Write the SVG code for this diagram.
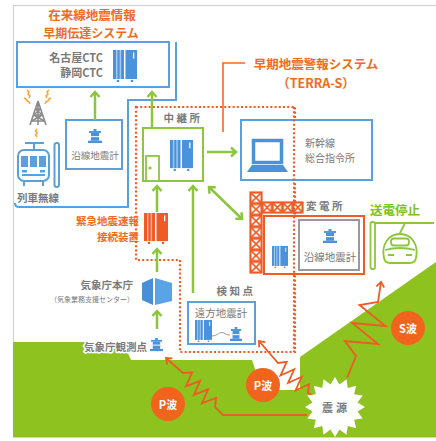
<svg xmlns="http://www.w3.org/2000/svg" width="436" height="441" viewBox="0 0 436 441">
<style>
text { font-family: "Noto Sans CJK JP", "Noto Sans", sans-serif; dominant-baseline: central; }
.g { fill:#7a7a7a; font-weight:700; }
.gl { fill:#7a7a7a; }
.or { fill:#f26b1d; font-weight:700; }
.wt { fill:#ffffff; font-weight:700; font-size:11px; text-anchor:middle; }
.blue { fill:#ffffff; stroke:#5aa0dc; stroke-width:2; }
.bl { fill:none; stroke:#5aa0dc; stroke-width:2; }
.dot { fill:none; stroke:#f05a24; stroke-width:2.2; stroke-dasharray:2 2.2; }
.ga { stroke:#8cc63f; stroke-width:2.5; fill:none; marker-end:url(#gah); }
.wave { stroke:#f05a24; stroke-width:1.8; fill:none; marker-end:url(#oah); }
.circ { fill:#f0641e; }
</style>
<defs>
  <marker id="gah" viewBox="-7 -6 9 12" refX="0" refY="0" markerWidth="9" markerHeight="12" orient="auto-start-reverse" markerUnits="userSpaceOnUse">
    <path d="M-5,-4.5 L0,0 L-5,4.5" fill="none" stroke="#8cc63f" stroke-width="2.5"/>
  </marker>
  <marker id="oah" viewBox="-7 -6 9 12" refX="0" refY="0" markerWidth="9" markerHeight="12" orient="auto" markerUnits="userSpaceOnUse">
    <path d="M-5,-4 L0,0 L-5,4" fill="none" stroke="#f05a24" stroke-width="1.8"/>
  </marker>
  <!-- equipment cabinet -->
  <symbol id="srv" viewBox="0 0 24 32" preserveAspectRatio="none">
    <rect x="0" y="0" width="11" height="29" fill="currentColor"/>
    <rect x="3" y="0" width="1.5" height="29" fill="#fff" opacity="0.5"/>
    <rect x="6.6" y="0" width="1.5" height="29" fill="#fff" opacity="0.5"/>
    <rect x="12.5" y="0" width="11.5" height="29" fill="currentColor"/>
    <rect x="20" y="2.5" width="1.3" height="6" fill="#fff"/>
    <circle cx="5" cy="31" r="1.3" fill="currentColor"/>
    <circle cx="19" cy="31" r="1.3" fill="currentColor"/>
  </symbol>
  <!-- seismometer -->
  <symbol id="seis" viewBox="0 0 14 16" preserveAspectRatio="none">
    <rect x="5.5" y="0" width="3" height="2.2" fill="currentColor"/>
    <rect x="1" y="2.2" width="12" height="2" fill="currentColor"/>
    <rect x="3" y="4.2" width="8" height="8.3" fill="currentColor"/>
    <rect x="3" y="7.6" width="8" height="1.1" fill="#fff"/>
    <rect x="0" y="12.5" width="14" height="2.5" fill="currentColor"/>
  </symbol>
  <pattern id="lat" patternUnits="userSpaceOnUse" x="250" y="192" width="12" height="11.57">
    <rect x="0" y="0" width="12" height="11.57" fill="#fff" stroke="#f05a24" stroke-width="3"/>
    <path d="M0,0 L12,11.57 M12,0 L0,11.57" stroke="#f05a24" stroke-width="1.6"/>
  </pattern>
  <pattern id="lat2" patternUnits="userSpaceOnUse" x="262" y="202" width="10.25" height="11">
    <rect x="0" y="0" width="10.25" height="11" fill="#fff" stroke="#f05a24" stroke-width="3"/>
    <path d="M0,0 L10.25,11 M10.25,0 L0,11" stroke="#f05a24" stroke-width="1.6"/>
  </pattern>
</defs>

<!-- frame and ground -->
<rect x="13.5" y="5.5" width="440" height="432" fill="#fff" stroke="#d2d2d2" stroke-width="1.2"/>
<path d="M13,342 H123 L131,360 H252 L262,390 H300 V357 L436,262 V437 H13 Z" fill="#8dc21f"/>

<!-- TERRA-S boundary -->
<g id="terra-s-area">
  <path class="dot" d="M136,107 H295 V352 H180 V260 H136 Z"/>
</g>

<!-- conventional-line network frame -->
<g id="zairai">
  <text class="or" x="92" y="14" font-size="12.5" text-anchor="middle">在来線地震情報</text>
  <text class="or" x="91" y="32" font-size="12" text-anchor="middle">早期伝達システム</text>
  <path class="bl" d="M15,203 Q15,207 19,207 H128 V100 H176 V42"/>
</g>

<g id="ctc">
  <rect class="blue" x="17" y="42" width="152" height="45"/>
  <text class="g" x="103" y="57" font-size="11" text-anchor="end">名古屋CTC</text>
  <text class="g" x="103" y="72" font-size="11" text-anchor="end">静岡CTC</text>
  <use href="#srv" x="113" y="50" width="24" height="32" style="color:#4a93dc"/>
</g>

<g id="train-radio">
  <!-- signal waves -->
  <g fill="none" stroke="#f7a233" stroke-width="1.5">
    <path d="M27,90 l2,2 l-1,2 l2,2 l-1,2"/>
    <path d="M24,98 l2,1 l1,2 l2,1 l1,2"/>
    <path d="M49,90 l-2,2 l1,2 l-2,2 l1,2"/>
    <path d="M51,98 l-2,1 l-1,2 l-2,1 l-1,2"/>
    <path d="M37,129 l-1.5,2 l1.5,2 l-1.5,2 l1.5,2"/>
  </g>
  <!-- lattice tower -->
  <g fill="none" stroke="#8a8a8a" stroke-width="1.6">
    <path d="M38,101 L30,125 M38,101 L46,125 M38,101 V125"/>
    <path d="M35.5,109 H40.5 M33.5,115 H42.5 M31.5,121 H44.5"/>
    <path d="M35.5,109 L42.5,115 M40.5,109 L33.5,115 M33.5,115 L44.5,121 M42.5,115 L31.5,121"/>
  </g>
  <!-- train -->
  <g fill="none" stroke="#5aa0dc" stroke-width="2">
    <path d="M25,143 H44 M34,143 V150"/>
    <rect x="18" y="150" width="31" height="31" rx="6" fill="#fff"/>
    <path d="M22,175 H45 M24,181 V186 M43,181 V186"/>
    <rect x="54.5" y="143" width="4.5" height="44" rx="2.2" fill="#fff"/>
  </g>
  <g fill="#5aa0dc">
    <rect x="21" y="156" width="7" height="11"/>
    <rect x="30" y="156" width="7" height="11"/>
    <rect x="39" y="156" width="7" height="11"/>
    <rect x="22" y="170" width="5" height="2.5"/>
    <rect x="40" y="170" width="5" height="2.5"/>
  </g>
  <text class="g" x="38" y="197" font-size="10.5" text-anchor="middle">列車無線</text>
</g>

<g id="ensen-left">
  <rect class="blue" x="66" y="120" width="56" height="49"/>
  <use href="#seis" x="88" y="129" width="14" height="15" style="color:#4a93dc"/>
  <text class="gl" x="95" y="155" font-size="9.5" text-anchor="middle">沿線地震計</text>
</g>

<g id="chukei">
  <text class="g" x="183" y="117" font-size="10.5" text-anchor="middle" letter-spacing="2.5">中継所</text>
  <rect x="143" y="128" width="60" height="53" fill="#fff" stroke="#8cc63f" stroke-width="2"/>
  <rect x="146" y="156" width="13" height="25" fill="#fff" stroke="#8cc63f" stroke-width="1.8"/>
  <circle cx="150" cy="168" r="1.6" fill="#8cc63f"/>
  <use href="#srv" x="170" y="140" width="23" height="31" style="color:#4a93dc"/>
</g>

<g id="terra-s-label">
  <path d="M245,63 H223 V132" fill="none" stroke="#f26b1d" stroke-width="1.6"/>
  <text class="or" x="316" y="63.5" font-size="12.5" text-anchor="middle">早期地震警報システム</text>
  <text class="or" x="316" y="82" font-size="12.5" text-anchor="middle">（TERRA-S）</text>
</g>

<g id="shinkansen-hq">
  <rect class="blue" x="241" y="120" width="131" height="60"/>
  <rect x="253.5" y="140.5" width="28" height="22" fill="#fff" stroke="#4a93dc" stroke-width="3.5"/>
  <path d="M252,165 H283 L288,172 H247 Z" fill="#4a93dc"/>
  <text class="gl" x="305" y="142.5" font-size="10" text-anchor="start">新幹線</text>
  <text class="gl" x="305" y="157.5" font-size="10" text-anchor="start">総合指令所</text>
</g>

<g id="kinkyu">
  <text class="or" x="139" y="220.5" font-size="10.5" text-anchor="end">緊急地震速報</text>
  <text class="or" x="139" y="236.5" font-size="10.5" text-anchor="end">接続装置</text>
  <use href="#srv" x="144" y="213" width="24" height="31" style="color:#f05a24"/>
</g>

<g id="jma-hq">
  <text class="g" x="133" y="284.5" font-size="10.5" text-anchor="end">気象庁本庁</text>
  <text class="gl" x="134" y="298.5" font-size="7" text-anchor="end">（気象業務支援センター）</text>
  <path d="M142,283 L153,278 V305 L142,300 Z" fill="#4a8fd6"/>
  <path d="M155,278 L172,283 V301 L155,305 Z" fill="#5aa3e6"/>
</g>

<g id="jma-obs">
  <text class="g" x="147" y="346" font-size="10.5" text-anchor="end" stroke="#fff" stroke-width="3" paint-order="stroke" stroke-linejoin="round">気象庁観測点</text>
  <use href="#seis" x="150" y="338" width="13" height="14" style="color:#4a93dc"/>
</g>

<g id="kenchi">
  <text class="g" x="236" y="290" font-size="10.5" text-anchor="middle" letter-spacing="2.5">検知点</text>
  <rect class="blue" x="188" y="302" width="67" height="42"/>
  <text class="gl" x="221" y="312" font-size="10.5" text-anchor="middle">遠方地震計</text>
  <use href="#srv" x="195" y="320" width="17" height="22" style="color:#4a93dc"/>
  <path d="M212,336 C218,336 219,331 224,333 C226,334 227,335 230,335" fill="none" stroke="#999" stroke-width="1"/>
  <use href="#seis" x="230" y="327" width="12" height="15" style="color:#4a93dc"/>
</g>

<g id="hendensho">
  <rect x="250" y="192" width="12" height="81" fill="url(#lat)" stroke="#f05a24" stroke-width="1.2"/>
  <rect x="262" y="202" width="41" height="11" fill="url(#lat2)" stroke="#f05a24" stroke-width="1.2"/>
  <text class="g" x="306" y="205" font-size="10.5" text-anchor="start" letter-spacing="2.5">変電所</text>
  <rect x="264" y="216" width="100" height="58" fill="#fff" stroke="#f05a24" stroke-width="2"/>
  <rect x="299" y="220" width="60" height="50" fill="#fff" stroke="#999" stroke-width="2"/>
  <use href="#seis" x="323" y="229" width="14" height="15" style="color:#4a93dc"/>
  <text class="gl" x="330" y="256" font-size="10.5" text-anchor="middle">沿線地震計</text>
  <use href="#srv" x="272" y="246" width="16" height="22" style="color:#4a93dc"/>
  <path d="M294,107 V352" class="dot"/>
</g>

<g id="teiden">
  <text x="395" y="209" font-size="12.5" text-anchor="middle" fill="#7cc225" font-weight="700">送電停止</text>
  <g fill="none" stroke="#8cc63f" stroke-width="1.8">
    <rect x="370.5" y="222" width="4.5" height="47" rx="2" fill="#fff"/>
    <path d="M375,223 H434"/>
    <path d="M405,223 L398,237"/>
    <path d="M384,258 C381,244 389,234 400,234 C411,234 419,244 416,258 Q415,263 410,263 H390 Q385,263 384,258 Z" fill="#fff"/>
    <rect x="391" y="238.5" width="18" height="7" rx="3"/>
    <path d="M385,250 Q400,246 415,250"/>
    <path d="M388,255 H394 M406,255 H412"/>
  </g>
</g>

<!-- connectors -->
<g id="connectors">
  <path class="ga" d="M95,120 V92"/>
  <path class="ga" d="M152,128 V92"/>
  <path class="ga" d="M207,152 H236"/>
  <path class="ga" d="M209,187 L242,219" marker-start="url(#gah)"/>
  <path class="ga" d="M157,212 V186"/>
  <path class="ga" d="M193,293 V186"/>
  <path class="ga" d="M157,272 V249"/>
  <path class="ga" d="M157,329 V311"/>
</g>

<!-- seismic waves -->
<g id="waves">
  <path class="wave" d="M307,415 H223 L215,407 L216.1,397.95 L201.9,403.3 L208.1,389.45 L193.9,394.8 L200.1,380.95 L185.9,386.3 L192.1,372.45 L183,373 L166,358"/>
  <path class="wave" d="M316,397 L308,393 L309.2,384.3 L295.55,390.45 L301.7,376.8 L288.05,382.95 L294.2,369.3 L280.55,375.45 L286.7,361.8 L278,363 L259,341"/>
  <path class="wave" d="M347,378 L356,356 L344.9,341 L378.1,344 L352.2,323 L385.5,326 L359.5,305 L378,302 L381,282"/>
  <circle class="circ" cx="168" cy="404" r="17"/>
  <text class="wt" x="168" y="404">P波</text>
  <circle class="circ" cx="263" cy="385" r="17"/>
  <text class="wt" x="263" y="385">P波</text>
  <circle class="circ" cx="408" cy="328" r="17"/>
  <text class="wt" x="408" y="328">S波</text>
</g>

<g id="shingen">
  <path d="M365,407 L357.56,411.49 L362.72,418.48 L354.12,419.78 L356.21,428.21 L347.78,426.12 L346.48,434.72 L339.49,429.56 L335,437 L330.51,429.56 L323.52,434.72 L322.22,426.12 L313.79,428.21 L315.88,419.78 L307.28,418.48 L312.44,411.49 L305,407 L312.44,402.51 L307.28,395.52 L315.88,394.22 L313.79,385.79 L322.22,387.88 L323.52,379.28 L330.51,384.44 L335,377 L339.49,384.44 L346.48,379.28 L347.78,387.88 L356.21,385.79 L354.12,394.22 L362.72,395.52 L357.56,402.51 Z" fill="#fff"/>
  <text x="336" y="407" font-size="11" text-anchor="middle" fill="#7a7a7a" font-weight="700" letter-spacing="3">震源</text>
</g>
</svg>
